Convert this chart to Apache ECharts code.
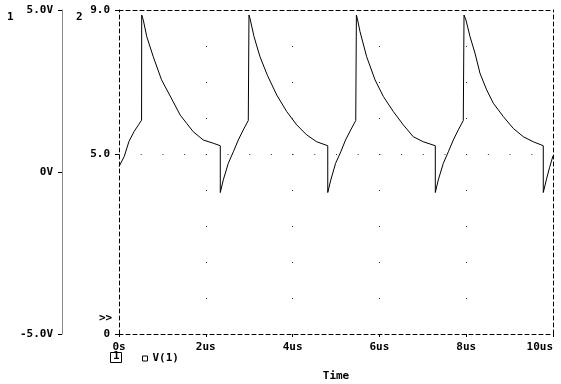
<!DOCTYPE html>
<html>
<head>
<meta charset="utf-8">
<script src="https://cdn.jsdelivr.net/npm/echarts@6/dist/echarts.min.js"></script>
<style>
html,body{margin:0;padding:0;background:#fff;}
#c{width:561px;height:384px;}
</style>
</head>
<body>
<div id="c"></div>
<script>
// Time in microseconds
var timeUs = [
  0, 0.12, 0.23, 0.35, 0.45, 0.52,
  0.523, 0.56, 0.64, 0.79, 0.98, 1.25, 1.41, 1.56, 1.71, 1.94, 2.17, 2.334,
  2.334, 2.403, 2.518, 2.634, 2.749, 2.864, 2.979, 2.995,
  2.995, 3.018, 3.111, 3.249, 3.418, 3.634, 3.864, 4.094, 4.325, 4.555, 4.81,
  4.81, 4.88, 4.99, 5.11, 5.22, 5.34, 5.455, 5.47,
  5.47, 5.49, 5.553, 5.707, 5.899, 6.09, 6.32, 6.55, 6.78, 7.01, 7.288,
  7.288, 7.357, 7.472, 7.588, 7.703, 7.818, 7.933, 7.95,
  7.95, 7.995, 8.088, 8.203, 8.318, 8.472, 8.625, 8.855, 9.085, 9.316, 9.546, 9.776,
  9.776, 9.85, 9.92, 10.0
];
// V(1) values read on axis 2 (0 .. 9.0)
var v1 = [
  4.65, 4.93, 5.35, 5.63, 5.81, 5.94,
  8.86, 8.72, 8.26, 7.70, 7.06, 6.45, 6.08, 5.85, 5.62, 5.39, 5.30, 5.23,
  3.93, 4.28, 4.74, 5.06, 5.39, 5.67, 5.93, 5.95,
  8.86, 8.77, 8.26, 7.70, 7.19, 6.64, 6.18, 5.81, 5.53, 5.34, 5.23,
  3.93, 4.28, 4.74, 5.06, 5.39, 5.67, 5.93, 5.95,
  8.86, 8.77, 8.40, 7.70, 7.06, 6.60, 6.18, 5.81, 5.48, 5.34, 5.23,
  3.93, 4.28, 4.74, 5.06, 5.39, 5.67, 5.93, 5.95,
  8.86, 8.72, 8.26, 7.80, 7.24, 6.78, 6.41, 6.04, 5.71, 5.48, 5.34, 5.23,
  3.93, 4.30, 4.62, 4.95
];
var xTickLabels = {0: '0s', 2: '2us', 4: '4us', 6: '6us', 8: '8us', 10: '10us'};
var axis2Labels = {0: '0', 5: '5.0', 9: '9.0'};
var axis1Labels = {'-5': '-5.0V', '0': '0V', '5': '5.0V'};
var gridDotTimes = [2, 4, 6, 8];
var gridDotLevel = 5;

var FONT = 'DejaVu Sans Mono';
var txt = {fontFamily: FONT, fontSize: 11, fontWeight: 'bold', color: '#000'};
var DASH = [4, 3];

var seriesData = timeUs.map(function (t, i) { return [t, v1[i]]; });

var markData = gridDotTimes.map(function (t) {
  return [{coord: [t, 9], lineStyle: {type: [1, 35], color: '#333', width: 1}}, {coord: [t, 0]}];
});
markData.push([{coord: [0, gridDotLevel], lineStyle: {type: [1, 20.7], color: '#333', width: 1}}, {coord: [10, gridDotLevel]}]);

var chart = echarts.init(document.getElementById('c'), null, {renderer: 'canvas'});
chart.setOption({
  animation: false,
  backgroundColor: '#fff',
  grid: {left: 119, right: 8, top: 10, bottom: 50, containLabel: false, outerBoundsMode: 'none'},
  xAxis: [{
    type: 'value', min: 0, max: 10, interval: 2, position: 'bottom',
    name: 'Time', nameLocation: 'middle', nameGap: 37,
    nameTextStyle: txt,
    axisLine: {show: true, onZero: false, lineStyle: {color: '#000', type: DASH, width: 1}},
    axisTick: {show: true, length: 3, lineStyle: {color: '#000'}},
    axisLabel: Object.assign({margin: 8, alignMaxLabel: 'right',
      formatter: function (v) { return xTickLabels[v] !== undefined ? xTickLabels[v] : ''; }}, txt),
    splitLine: {show: false}
  }, {
    type: 'value', min: 0, max: 10, position: 'top',
    axisLine: {show: true, onZero: false, lineStyle: {color: '#000', type: DASH, width: 1}},
    axisTick: {show: false}, axisLabel: {show: false}, splitLine: {show: false}
  }],
  yAxis: [{
    type: 'value', min: 0, max: 9, interval: 5, position: 'left', offset: 0,
    axisLine: {show: true, onZero: false, lineStyle: {color: '#000', type: DASH, width: 1}},
    axisTick: {show: true, length: 4, lineStyle: {color: '#000'}},
    axisLabel: Object.assign({margin: 9,
      formatter: function (v) { return axis2Labels[v] !== undefined ? axis2Labels[v] : ''; }}, txt),
    splitLine: {show: false}
  }, {
    type: 'value', min: -5, max: 5, interval: 5, position: 'left', offset: 57,
    axisLine: {show: true, onZero: false, lineStyle: {color: '#888', width: 1}},
    axisTick: {show: true, length: 4, lineStyle: {color: '#000'}},
    axisLabel: Object.assign({margin: 9,
      formatter: function (v) { return axis1Labels[String(v)] !== undefined ? axis1Labels[String(v)] : ''; }}, txt),
    splitLine: {show: false}
  }, {
    type: 'value', min: 0, max: 9, position: 'right',
    axisLine: {show: true, onZero: false, lineStyle: {color: '#000', type: DASH, width: 1}},
    axisTick: {show: false}, axisLabel: {show: false}, splitLine: {show: false}
  }],
  legend: {
    left: 137, top: 348, icon: 'rect', itemWidth: 5, itemHeight: 5,
    itemStyle: {color: '#fff', borderColor: '#000', borderWidth: 1},
    textStyle: txt,
    data: ['V(1)']
  },
  graphic: [
    {type: 'text', left: 7, top: 12, style: {text: '1', font: 'bold 11px ' + FONT, fill: '#000'}},
    {type: 'text', left: 76, top: 12, style: {text: '2', font: 'bold 11px ' + FONT, fill: '#000'}},
    {type: 'text', left: 99, top: 313, style: {text: '>>', font: 'bold 11px ' + FONT, fill: '#000'}},
    {type: 'rect', shape: {x: 110.5, y: 352.5, width: 11, height: 10}, style: {fill: 'none', stroke: '#000', lineWidth: 1}},
    {type: 'text', left: 113, top: 351, style: {text: '1', font: 'bold 11px ' + FONT, fill: '#000'}}
  ],
  series: [{
    name: 'V(1)', type: 'line', xAxisIndex: 0, yAxisIndex: 0,
    data: seriesData, showSymbol: false, symbol: 'none',
    lineStyle: {color: '#000', width: 1},
    itemStyle: {color: '#000'},
    markLine: {
      silent: true, symbol: ['none', 'none'], label: {show: false},
      emphasis: {disabled: true},
      data: markData
    }
  }]
});
</script>
</body>
</html>
